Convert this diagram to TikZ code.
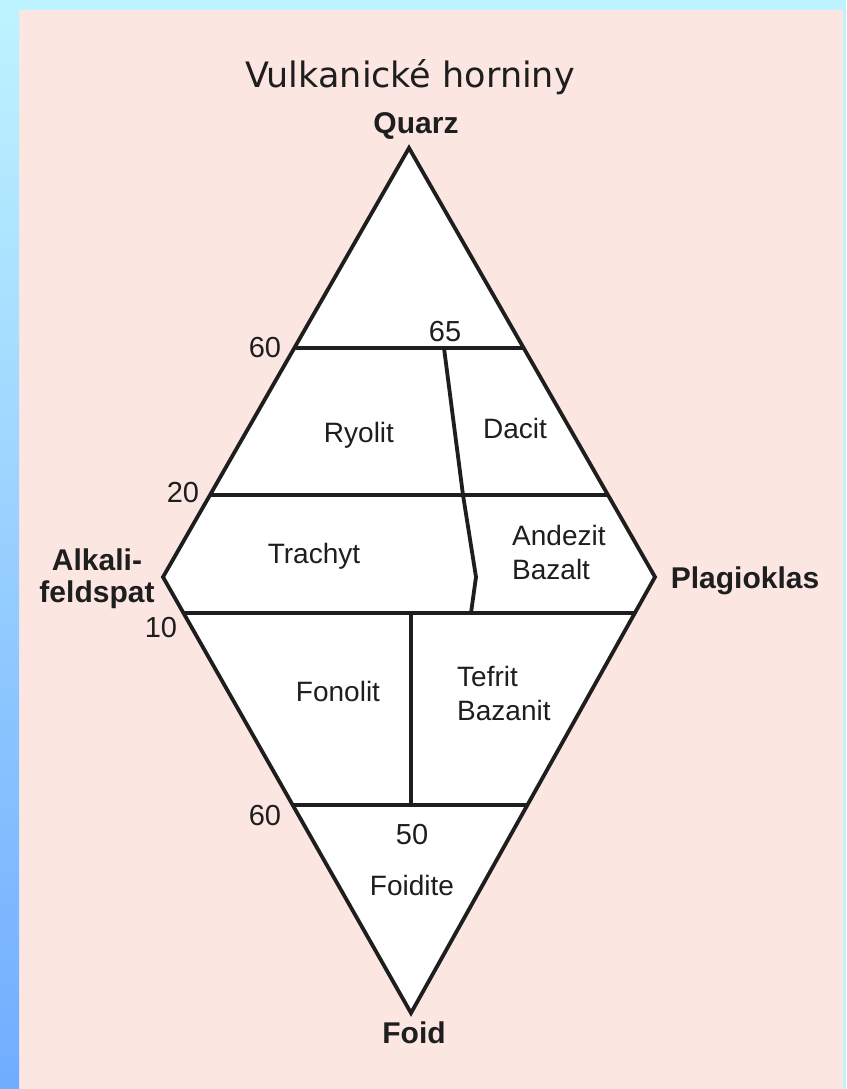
\documentclass[tikz,border=0pt]{standalone}
\usepackage{fontspec}
\setmainfont{Liberation Sans}
\newfontfamily\titlefont{DejaVu Sans}
\definecolor{paper}{RGB}{251,230,226}
\definecolor{stripetop}{RGB}{190,244,255}
\definecolor{stripebot}{RGB}{112,172,255}
\definecolor{ink}{RGB}{30,30,30}
\begin{document}
\begin{tikzpicture}[x=1pt,y=-1pt,
    edge/.style={line width=3.8pt,draw=ink,line join=miter},
    rock/.style={text=ink,font=\fontsize{28}{34}\selectfont,inner sep=0pt},
    num/.style={text=ink,font=\fontsize{29}{33}\selectfont,inner sep=0pt,anchor=base},
    pole/.style={text=ink,font=\bfseries\fontsize{30}{32}\selectfont,inner sep=0pt}]
            \newcommand{\midx}{409}
            \newcommand{\sidey}{577}
            \useasboundingbox (0,0) rectangle (846,1089);
            \fill[paper] (0,0) rectangle (846,1089);
            \fill[stripetop] (0,0) rectangle (846,10) (843,0) rectangle (846,1089);
            \shade[top color=stripetop,bottom color=stripebot] (0,0) rectangle (19,1089);
            \coordinate (Q) at (\midx,148);
            \coordinate (A) at (163,\sidey);
            \coordinate (P) at (655,\sidey);
            \coordinate (F) at (411,1013);
            \fill[white] (Q) -- (A) -- (F) -- (P) -- cycle;
            \draw[edge] (294,348) -- (523,348)
            (210,495) -- (608,495)
            (184,613) -- (635,613)
            (293,805) -- (527,805);
            \draw[edge] (444,348) -- (463,495) -- (476,\sidey) -- (471,613)
            (411,613) -- (411,805);
            \draw[edge] (Q) -- (A) -- (F) -- (P) -- cycle;
            \node[text=ink,font=\titlefont\fontsize{35}{40}\selectfont,inner sep=0pt,anchor=base] (title) at (410,88) {Vulkanické horniny};
            \node[pole,anchor=base] (quarz) at (416,133) {Quarz};
            \node[pole,anchor=base,align=center] (alkali) at (97,602) {Alkali-\\feldspat};
            \node[pole,anchor=base] (plagio) at (745,588) {Plagioklas};
            \node[pole,anchor=base] (foid) at (414,1043) {Foid};
            \node[num] (q60) at (265,357) {60};
            \node[num] (q65) at (445,341) {65};
            \node[num] (q20) at (183,502) {20};
            \node[num] (f10) at (161,637) {10};
            \node[num] (f60) at (265,825) {60};
            \node[num] (f50) at (412,844) {50};
            \node[rock,anchor=base] (ryolit) at (359,442) {Ryolit};
            \node[rock,anchor=base] (dacit) at (515,438) {Dacit};
            \node[rock,anchor=base] (trachyt) at (314,563) {Trachyt};
            \node[rock,anchor=base west,align=left] (andezit) at (512,579) {Andezit\\Bazalt};
            \node[rock,anchor=base] (fonolit) at (338,701) {Fonolit};
            \node[rock,anchor=base west,align=left] (tefrit) at (457,720) {Tefrit\\Bazanit};
            \node[rock,anchor=base] (foidite) at (412,895) {Foidite};
\end{tikzpicture}
\end{document}
